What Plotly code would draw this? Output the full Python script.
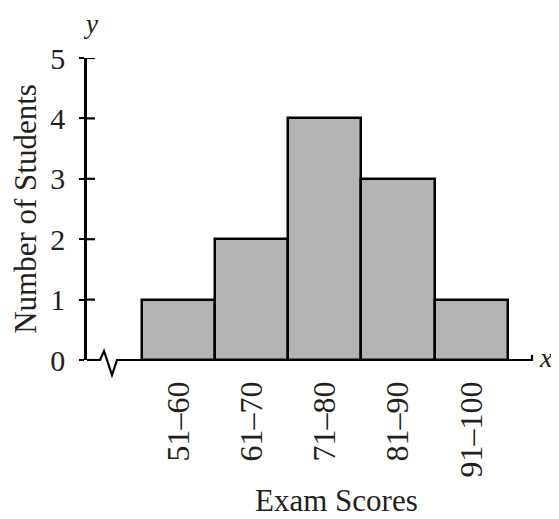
import plotly.graph_objects as go

categories = ["51–60", "61–70", "71–80", "81–90", "91–100"]
students = [1, 2, 4, 3, 1]
y_ticks = [0, 1, 2, 3, 4, 5]

FONT = "Liberation Serif"

fig = go.Figure(go.Bar(
    x=categories, y=students, width=1,
    marker=dict(color="#b3b3b3", line=dict(color="black", width=2.5)),
))

shapes = []
# x axis line with break mark (pixel-sized relative to plot origin)
shapes.append(dict(
    type="path", xref="paper", yref="paper", xsizemode="pixel", ysizemode="pixel",
    xanchor=0, yanchor=0,
    path="M0,0 L13,0 L17,9 L25,-15 L30,0 L445,0 L445,5",
    line=dict(color="black", width=2.2), layer="above",
))
# inner part of y ticks (cross the axis)
for v in y_ticks:
    shapes.append(dict(
        type="line", xref="paper", yref="y", xsizemode="pixel", xanchor=0,
        x0=0, x1=8, y0=v, y1=v, line=dict(color="black", width=2.2),
    ))

# page body has an 8px default margin, so the figure is sized/offset to compensate
fig.update_layout(
    width=551, height=511,
    margin=dict(l=79, r=27, t=50, b=159, autoexpand=False),
    paper_bgcolor="white", plot_bgcolor="white",
    showlegend=False, bargap=0,
    font=dict(family=FONT, color="#231f20", size=30),
    xaxis=dict(
        range=[-1.25, 4.83], showgrid=False, zeroline=False, showline=False,
        ticks="", tickangle=-90, tickfont=dict(size=32), ticklabelstandoff=14,
        automargin=False,
    ),
    yaxis=dict(
        range=[0, 5], tickvals=y_ticks, showgrid=False, zeroline=False,
        showline=True, linecolor="black", linewidth=2.5,
        ticks="outside", ticklen=5, tickwidth=2.2, tickcolor="black",
        tickfont=dict(size=30), ticklabelstandoff=8, automargin=False,
        title=dict(text="Number of Students", font=dict(size=31), standoff=24),
    ),
    shapes=shapes,
    annotations=[
        dict(text="Exam Scores", xref="paper", yref="paper", x=(336 - 87) / 445,
             y=(360 - 500) / 302, xanchor="center", yanchor="middle",
             showarrow=False, font=dict(size=31)),
        dict(text="<i>y</i>", xref="paper", yref="paper", x=(90 - 87) / 445,
             y=(360 - 24) / 302, xanchor="center", yanchor="middle",
             showarrow=False, font=dict(size=27), borderpad=0),
        dict(text="<i>x</i>", xref="paper", yref="paper", x=(546 - 87) / 445,
             y=(360 - 357) / 302, xanchor="center", yanchor="middle",
             showarrow=False, font=dict(size=28), borderpad=0),
    ],
)

fig.write_html("out.html")
